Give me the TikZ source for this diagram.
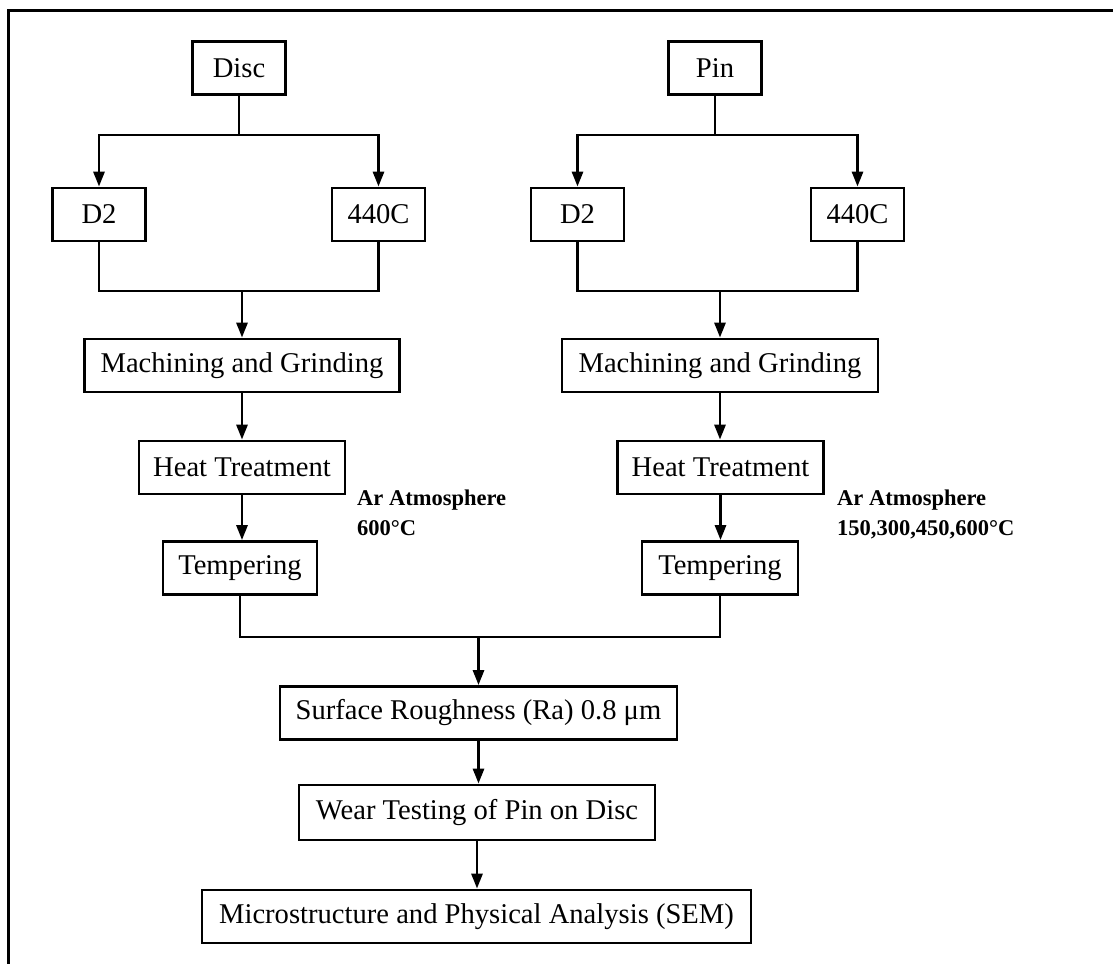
\documentclass[tikz,border=0pt]{standalone}
\usepackage{fontspec}
\setmainfont{Liberation Serif}
\usetikzlibrary{arrows.meta}
\begin{document}
\begin{tikzpicture}[x=1pt,y=-1pt,
  box/.style={draw,line width=2.8pt,minimum height=53pt,inner sep=0pt,font=\fontsize{28.6}{32}\selectfont},
  conn/.style={line width=2.8pt,line cap=rect},
  arr/.style={line width=2.8pt,-{Triangle[length=15pt,width=11pt]}},
  note/.style={font=\fontsize{22.5}{30}\selectfont\bfseries,anchor=base west,inner sep=0pt}]
\useasboundingbox (0,0) rectangle (1113,964);
% frame
\coordinate (fa) at (1113,10);
\coordinate (fb) at (8,10);
\coordinate (fc) at (8,964);
\draw[line width=3pt] (fa) -- (fb) -- (fc);
% left column
\node[box,minimum width=93pt] (disc) at (239,68) {Disc};
\node[box,minimum width=93pt] (d2l) at (99,214.5) {D2};
\node[box,minimum width=93pt] (c4l) at (378.5,214.5) {440C};
\node[box,minimum width=315pt] (mgl) at (242,365.5) {Machining and Grinding};
\node[box,minimum width=206pt] (htl) at (242,467.5) {Heat Treatment};
\node[box,minimum width=154pt] (tpl) at (240,568) {Tempering};
% right column
\node[box,minimum width=93pt] (pin) at (715,68) {Pin};
\node[box,minimum width=93pt] (d2r) at (577.5,214.5) {D2};
\node[box,minimum width=93pt] (c4r) at (857.5,214.5) {440C};
\node[box,minimum width=316pt] (mgr) at (720,365.5) {Machining and Grinding};
\node[box,minimum width=206pt] (htr) at (720.5,467.5) {Heat Treatment};
\node[box,minimum width=156pt] (tpr) at (720,568) {Tempering};
% common
\node[box,minimum width=397pt] (sr) at (478.5,713) {Surface Roughness (Ra) 0.8 μm};
\node[box,minimum width=356pt,minimum height=55pt] (wt) at (477,812.5) {Wear Testing of Pin on Disc};
\node[box,minimum width=549pt] (ms) at (476.5,916.5) {Microstructure and Physical Analysis (SEM)};
% notes
\node[note] (n1a) at (357,505) {Ar Atmosphere};
\node[note] (n1b) at (357,535) {600°C};
\node[note] (n2a) at (837,505) {Ar Atmosphere};
\node[note] (n2b) at (837,535) {150,300,450,600°C};
% left branch
\coordinate (bl1) at (99,135);
\coordinate (bl2) at (378.5,135);
\draw[conn] (disc.south) -- (disc.south |- bl1);
\draw[conn] (bl1) -- (bl2);
\draw[arr] (bl1) -- (d2l.north);
\draw[arr] (bl2) -- (c4l.north);
\coordinate (ml1) at (99,291);
\coordinate (ml2) at (378.5,291);
\draw[conn] (d2l.south) -- (ml1) -- (ml2) -- (c4l.south);
\draw[arr] (mgl.north |- ml1) -- (mgl.north);
\draw[arr] (mgl.south) -- (htl.north);
\draw[arr] (htl.south) -- (htl.south |- tpl.north);
% right branch
\coordinate (br1) at (577.5,135);
\coordinate (br2) at (857.5,135);
\draw[conn] (pin.south) -- (pin.south |- br1);
\draw[conn] (br1) -- (br2);
\draw[arr] (br1) -- (d2r.north);
\draw[arr] (br2) -- (c4r.north);
\coordinate (mr1) at (577.5,291);
\coordinate (mr2) at (857.5,291);
\draw[conn] (d2r.south) -- (mr1) -- (mr2) -- (c4r.south);
\draw[arr] (mgr.north |- mr1) -- (mgr.north);
\draw[arr] (mgr.south) -- (mgr.south |- htr.north);
\draw[arr] (htr.south) -- (htr.south |- tpr.north);
% merge
\coordinate (j1) at (240,637);
\coordinate (j2) at (720,637);
\draw[conn] (tpl.south) -- (j1) -- (j2) -- (tpr.south);
\draw[arr] (sr.north |- j1) -- (sr.north);
\draw[arr] (sr.south) -- (sr.south |- wt.north);
\draw[arr] (wt.south) -- (wt.south |- ms.north);
\end{tikzpicture}
\end{document}
